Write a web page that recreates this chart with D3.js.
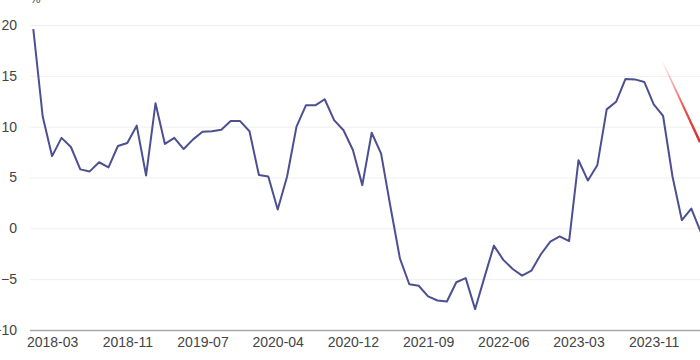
<!DOCTYPE html>
<html>
<head>
<meta charset="utf-8">
<script src="https://cdn.jsdelivr.net/npm/d3@7"></script>
<style>
  html, body { margin: 0; padding: 0; background: #fff; }
  svg { display: block; font-family: "Noto Sans", "Open Sans", sans-serif; }
</style>
</head>
<body>
<svg id="chart" width="700" height="360"></svg>
<script>
// months on the category axis (January missing in some years)
const months = [
  "2018-01","2018-02","2018-03","2018-04","2018-05","2018-06","2018-07","2018-08","2018-09","2018-10","2018-11","2018-12",
  "2019-01","2019-02","2019-03","2019-04","2019-05","2019-06","2019-07","2019-08","2019-09","2019-10","2019-11","2019-12",
  "2020-02","2020-03","2020-04","2020-05","2020-06","2020-07","2020-08","2020-09","2020-10","2020-11","2020-12",
  "2021-02","2021-03","2021-04","2021-05","2021-06","2021-07","2021-08","2021-09","2021-10","2021-11","2021-12",
  "2022-02","2022-03","2022-04","2022-05","2022-06","2022-07","2022-08","2022-09","2022-10","2022-11","2022-12",
  "2023-02","2023-03","2023-04","2023-05","2023-06","2023-07","2023-08","2023-09","2023-10","2023-11","2023-12",
  "2024-02","2024-03","2024-04","2024-05"
];
const values = [
  19.6, 11.0, 7.1, 8.9, 8.0, 5.8, 5.6, 6.5, 6.0, 8.1, 8.4, 10.1,
  5.2, 12.3, 8.3, 8.9, 7.8, 8.75, 9.5, 9.55, 9.7, 10.55, 10.55, 9.55,
  5.25, 5.1, 1.85, 5.1, 10.0, 12.1, 12.1, 12.7, 10.65, 9.65, 7.7,
  4.25, 9.4, 7.35, 2.1, -2.95, -5.5, -5.65, -6.7, -7.1, -7.2, -5.3,
  -4.9, -7.95, -4.8, -1.7, -3.1, -4.0, -4.65, -4.15, -2.55, -1.3, -0.8,
  -1.25, 6.7, 4.7, 6.2, 11.7, 12.45, 14.7, 14.65, 14.4, 12.2, 11.05,
  5.1, 0.8, 1.95, -0.35
];
const xLabels = ["2018-03","2018-11","2019-07","2020-04","2020-12","2021-09","2022-06","2023-03","2023-11"];
const yTicks = [-10, -5, 0, 5, 10, 15, 20];

const svg = d3.select("#chart");
const padL = 30, padR = 720, padT = 25, padB = 330;

const x = d3.scalePoint().domain(months).range([33.3, 33.3 + 71 * 9.4]);
const y = d3.scaleLinear().domain([-10, 20]).range([padB, padT]);

// grid + y labels
const gy = svg.append("g").attr("transform", `translate(${padL},0)`)
  .call(d3.axisLeft(y).tickValues(yTicks).tickSize(-(padR - padL)).tickPadding(13));
gy.select(".domain").remove();
gy.selectAll(".tick line").attr("stroke", "#eeeeee").attr("stroke-width", 1);
gy.selectAll(".tick text").attr("fill", "#444").style("font-size", "14px");
gy.selectAll(".tick").filter(d => d === -10).select("line").attr("stroke", "#a8a8a8").attr("stroke-width", 1.5);

// x labels
const gx = svg.append("g").attr("transform", `translate(0,${padB})`)
  .call(d3.axisBottom(x).tickValues(xLabels).tickSize(0).tickPadding(7));
gx.select(".domain").remove();
gx.selectAll(".tick text").attr("fill", "#444").style("font-size", "14px");

// unit
svg.append("text").attr("x", 30).attr("y", 3).attr("fill", "#555")
  .style("font-size", "13px").text("%");

// annotation stroke (cropped)
const grad = svg.append("defs").append("linearGradient").attr("id", "redfade")
  .attr("x1", "0").attr("y1", "0").attr("x2", "0").attr("y2", "1");
grad.append("stop").attr("offset", "0").attr("stop-color", "#e53935").attr("stop-opacity", 0);
grad.append("stop").attr("offset", "0.6").attr("stop-color", "#e53935").attr("stop-opacity", 0.9);
grad.append("stop").attr("offset", "1").attr("stop-color", "#d32f2f").attr("stop-opacity", 1);
svg.append("polygon")
  .attr("points", "661,60 662.5,60 701,141 699,143")
  .attr("fill", "url(#redfade)");

// series
const line = d3.line().x((d, i) => x(months[i])).y(d => y(d));
svg.append("path").datum(values)
  .attr("fill", "none")
  .attr("stroke", "#4c5091")
  .attr("stroke-width", 2)
  .attr("stroke-linejoin", "round")
  .attr("d", line);
</script>
</body>
</html>
